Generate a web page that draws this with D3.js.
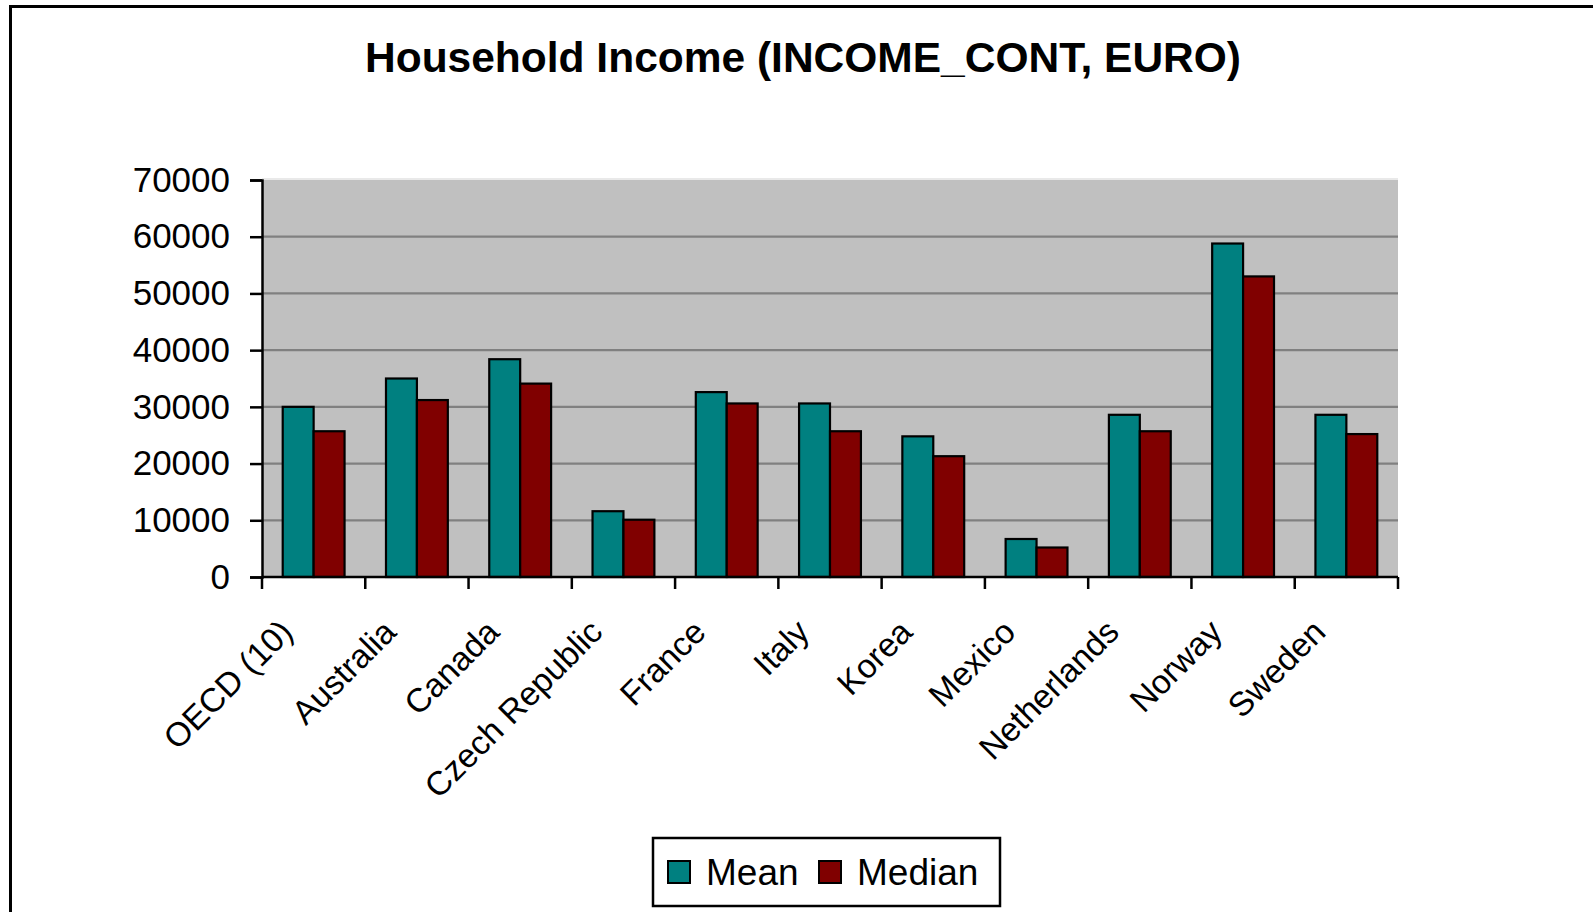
<!DOCTYPE html>
<html>
<head>
<meta charset="utf-8">
<script src="https://cdn.jsdelivr.net/npm/d3@7"></script>
<style>
  html, body { margin: 0; padding: 0; background: #ffffff; overflow: hidden; }
  svg { display: block; font-family: "Liberation Sans", Arial, sans-serif; }
</style>
</head>
<body>
<svg id="chart" width="1593" height="912"></svg>
<script>
// ---- data ----
const categories = ["OECD (10)", "Australia", "Canada", "Czech Republic", "France", "Italy",
                    "Korea", "Mexico", "Netherlands", "Norway", "Sweden"];
const seriesNames = ["Mean", "Median"];
const meanValues   = [30000, 35000, 38400, 11600, 32600, 30600, 24800, 6700, 28600, 58800, 28600];
const medianValues = [25700, 31200, 34100, 10100, 30600, 25700, 21300, 5200, 25700, 53000, 25200];
const yTicks = [0, 10000, 20000, 30000, 40000, 50000, 60000, 70000];
const titleText = "Household Income (INCOME_CONT, EURO)";

const colors = { Mean: "#008080", Median: "#800000" };

const svg = d3.select("#chart");

// outer chart border (extends beyond the viewport on right and bottom)
svg.append("rect")
  .attr("x", 10.5).attr("y", 6.5)
  .attr("width", 1700).attr("height", 1000)
  .attr("fill", "#ffffff").attr("stroke", "#000").attr("stroke-width", 3);

const plot = { left: 262, right: 1398, top: 180, bottom: 577 };

const x0 = d3.scaleBand().domain(categories).range([plot.left, plot.right]).paddingInner(0).paddingOuter(0);
const x1 = d3.scaleBand().domain(seriesNames).range([0, x0.bandwidth()]).paddingInner(0).paddingOuter(0.67);
const y = d3.scaleLinear().domain([0, 70000]).range([plot.bottom, plot.top]);

// plot background
svg.append("rect")
  .attr("x", plot.left).attr("y", plot.top)
  .attr("width", plot.right - plot.left).attr("height", plot.bottom - plot.top)
  .attr("fill", "#c0c0c0");
svg.append("line")
  .attr("x1", plot.left).attr("x2", plot.right)
  .attr("y1", plot.top - 1).attr("y2", plot.top - 1)
  .attr("stroke", "#e2e2e2").attr("stroke-width", 1.5);

// gridlines
svg.append("g").selectAll("line")
  .data(yTicks.filter(t => t > 0 && t < 70000))
  .join("line")
  .attr("x1", plot.left).attr("x2", plot.right)
  .attr("y1", d => y(d)).attr("y2", d => y(d))
  .attr("stroke", "#808080").attr("stroke-width", 2.2);

// bars
const rows = categories.map((c, i) => ({ cat: c, Mean: meanValues[i], Median: medianValues[i] }));
const groups = svg.append("g").selectAll("g")
  .data(rows).join("g")
  .attr("transform", d => `translate(${x0(d.cat)},0)`);
groups.selectAll("rect")
  .data(d => seriesNames.map(s => ({ s, v: d[s] })))
  .join("rect")
  .attr("x", d => x1(d.s))
  .attr("y", d => y(d.v))
  .attr("width", x1.bandwidth())
  .attr("height", d => y(0) - y(d.v))
  .attr("fill", d => colors[d.s])
  .attr("stroke", "#000").attr("stroke-width", 2.2);

// y axis
const yAxis = d3.axisLeft(y).tickValues(yTicks).tickSize(12).tickPadding(20).tickFormat(d3.format("d"));
const yg = svg.append("g").attr("transform", `translate(${plot.left},0)`).call(yAxis);
yg.select(".domain").attr("stroke", "#000").attr("stroke-width", 2.5);
yg.selectAll(".tick line").attr("stroke", "#000").attr("stroke-width", 2.5);
yg.selectAll(".tick text")
  .attr("font-size", 35).attr("fill", "#000")
  .attr("font-family", "Liberation Sans, Arial, sans-serif");

// x axis
const boundaries = categories.map(c => x0(c)).concat([plot.right]);
const xg = svg.append("g");
xg.append("line")
  .attr("x1", plot.left).attr("x2", plot.right)
  .attr("y1", plot.bottom).attr("y2", plot.bottom)
  .attr("stroke", "#000").attr("stroke-width", 2.5);
xg.selectAll("line.tk").data(boundaries).join("line")
  .attr("class", "tk")
  .attr("x1", d => d).attr("x2", d => d)
  .attr("y1", plot.bottom).attr("y2", plot.bottom + 12)
  .attr("stroke", "#000").attr("stroke-width", 2.5);
xg.selectAll("text").data(categories).join("text")
  .attr("transform", d => `translate(${x0(d) + x0.bandwidth() / 2 - 19},${plot.bottom + 57}) rotate(-45)`)
  .attr("text-anchor", "end")
  .attr("font-size", 33.5)
  .attr("fill", "#000")
  .text(d => d);

// title
svg.append("text")
  .attr("x", 803).attr("y", 72)
  .attr("text-anchor", "middle")
  .attr("font-size", 42.5).attr("font-weight", "bold")
  .attr("fill", "#000")
  .text(titleText);

// legend
const lg = svg.append("g");
lg.append("rect")
  .attr("x", 653).attr("y", 838).attr("width", 347).attr("height", 68)
  .attr("fill", "#fff").attr("stroke", "#000").attr("stroke-width", 2.5);
const legendItems = [
  { name: seriesNames[0], sx: 668, tx: 706 },
  { name: seriesNames[1], sx: 819, tx: 857 }
];
lg.selectAll("rect.sw").data(legendItems).join("rect")
  .attr("class", "sw")
  .attr("x", d => d.sx).attr("y", 861).attr("width", 22).attr("height", 22)
  .attr("fill", d => colors[d.name]).attr("stroke", "#000").attr("stroke-width", 2);
lg.selectAll("text").data(legendItems).join("text")
  .attr("x", d => d.tx).attr("y", 885)
  .attr("font-size", 37).attr("fill", "#000")
  .text(d => d.name);
</script>
</body>
</html>
